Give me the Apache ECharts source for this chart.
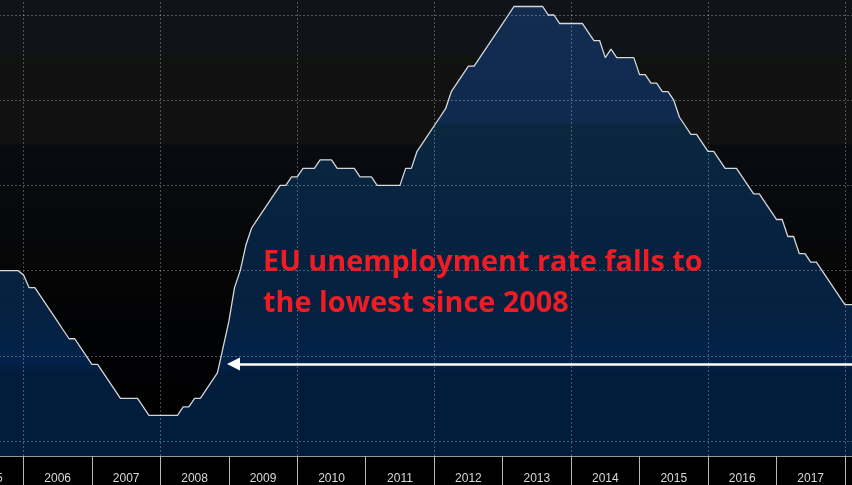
<!DOCTYPE html>
<html><head><meta charset="utf-8">
<style>html,body{margin:0;padding:0;background:#000}#c{width:852px;height:485px}</style>
<script src="https://cdn.jsdelivr.net/npm/echarts@6/dist/echarts.min.js"></script>
</head><body><div id="c"></div>
<script>
const firstMonth = 2005.5;
const rates = [
8.0,8.0,8.0,8.0,8.0,8.0,
7.95,7.8,7.8,7.7,7.6,7.5,7.4,7.3,7.2,7.2,7.1,7.0,
6.9,6.9,6.8,6.7,6.6,6.5,6.5,6.5,6.5,6.4,6.3,6.3,
6.3,6.3,6.3,6.3,6.4,6.4,6.5,6.5,6.6,6.7,6.8,7.1,
7.4,7.8,8.0,8.3,8.5,8.6,8.7,8.8,8.9,9.0,9.0,9.1,
9.1,9.2,9.2,9.2,9.3,9.3,9.3,9.2,9.2,9.2,9.2,9.1,
9.1,9.1,9.0,9.0,9.0,9.0,9.0,9.2,9.2,9.4,9.5,9.6,
9.7,9.8,9.9,10.1,10.2,10.3,10.4,10.4,10.5,10.6,10.7,10.8,
10.9,11.0,11.1,11.1,11.1,11.1,11.1,11.1,11.0,11.0,10.9,10.9,
10.9,10.9,10.9,10.8,10.7,10.7,10.5,10.6,10.5,10.5,10.5,10.5,
10.3,10.3,10.2,10.2,10.1,10.1,10.0,9.8,9.7,9.6,9.6,9.5,
9.4,9.4,9.3,9.2,9.2,9.2,9.1,9.0,8.9,8.9,8.8,8.7,
8.6,8.6,8.4,8.4,8.2,8.2,8.1,8.1,8.0,7.9,7.8,7.7,
7.6,7.6,7.6];
const tickYears = [2005,2006,2007,2008,2009,2010,2011,2012,2013,2014,2015,2016,2017,2018,2019];
const labelYears = tickYears.slice(0,-1);
const gridYears = [2006,2008,2010,2012,2014,2016,2018];
const gridRates = [6,7,8,9,10,11];
const headline = ['EU unemployment rate falls to','the lowest since 2008'];
const arrowFrom = [2018.3,6.905], arrowTo = [2009.068,6.905];

const points = rates.map((v,i)=>[firstMonth+i/12,v]);
const grad = stops => ({type:'linear',x:0,y:0,x2:0,y2:485,global:true,
  colorStops:stops.map(s=>({offset:s[0]/485,color:s[1]}))});
const bg = {type:'linear',x:0,y:0,x2:0,y2:1,colorStops:[
  [0,'#10141a'],[55,'#10141a'],[56,'#10140f'],[64,'#10140f'],[66,'#111111'],[144,'#111111'],[145,'#080b10'],
  [200,'#07090d'],[270,'#060606'],[330,'#010204'],[456,'#000000'],[485,'#000000']
].map(s=>({offset:s[0]/485,color:s[1]}))};
const fill = grad([[0,'#122d4f'],[60,'#112b50'],[122,'#10294f'],[125,'#0a2740'],[200,'#08233f'],
  [300,'#06213f'],[362,'#02224a'],[372,'#021d3c'],[485,'#011d3b']]);
const dash = {color:'rgba(255,255,255,0.28)',type:[2,2],width:1};

const chart = echarts.init(document.getElementById('c'),null,{renderer:'canvas'});
chart.setOption({
  animation:false,
  backgroundColor:bg,
  grid:{left:-45,right:-61.35,top:0,bottom:29,outerBoundsMode:'none',containLabel:false},
  xAxis:{type:'value',min:2005,max:2019,splitLine:{show:false},
    axisLine:{show:true,onZero:false,lineStyle:{color:'#c8c8c8',width:1.5}},
    axisTick:{show:true,customValues:tickYears,length:29,lineStyle:{color:'#b8b8b8',width:1}},
    axisLabel:{show:true,customValues:labelYears.map(y=>y+0.5),formatter:v=>String(Math.floor(v)),
      color:'#d8d8d8',fontFamily:'Liberation Sans',fontSize:12,margin:17}},
  yAxis:{type:'value',min:11+15/85.2-456/85.2,max:11+15/85.2,show:false,splitLine:{show:false}},
  series:[
    {type:'line',data:points,symbol:'none',z:3,silent:true,
      lineStyle:{color:'#d6d6d6',width:1.3},
      areaStyle:{color:fill,opacity:1,origin:'start'},
      markLine:{silent:true,symbol:'none',animation:false,lineStyle:dash,label:{show:false},
        data:gridYears.map(y=>({xAxis:y})).concat(gridRates.map(r=>({yAxis:r})))}},
    {type:'line',data:[],z:6,silent:true,
      markLine:{silent:true,animation:false,symbol:['triangle','none'],symbolSize:[13,13],
        lineStyle:{color:'#ffffff',width:2.6,type:'solid'},label:{show:false},
        data:[[{coord:arrowTo},{coord:arrowFrom}]]}}
  ],
  graphic:headline.map((t,i)=>({type:'text',left:263,top:248+i*41,z:10,silent:true,
    style:{text:t,fill:'#ee1c25',font:'bold 28.8px "Open Sans"'}}))
});
</script></body></html>
